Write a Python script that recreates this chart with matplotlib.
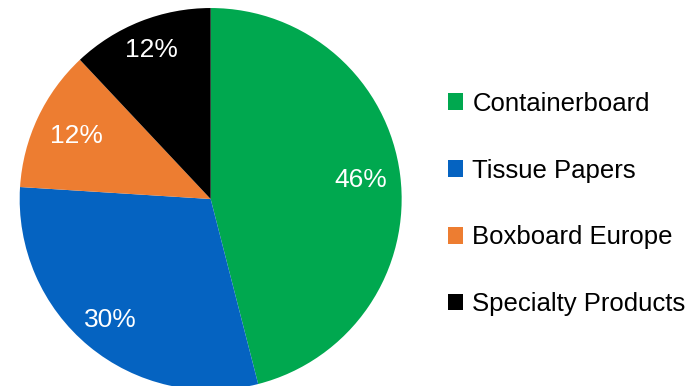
import matplotlib
matplotlib.use("Agg")
import matplotlib.pyplot as plt
import numpy as np

plt.rcParams['font.family'] = ['Liberation Sans', 'DejaVu Sans']

segments = ["Containerboard", "Tissue Papers", "Boxboard Europe", "Specialty Products"]
shares = [46, 30, 12, 12]
colors = ["#00A84F", "#0563C1", "#ED7D31", "#000000"]
label_radius = [0.79, 0.82, 0.775, 0.84]

fig = plt.figure(figsize=(7.0, 3.86), dpi=100)
ax = fig.add_axes([0.0281, -0.0104, 0.5457, 0.9896])

wedges, texts, autotexts = ax.pie(
    shares, colors=colors, startangle=90, counterclock=False,
    autopct=lambda p: f"{p:.0f}%", pctdistance=0.8, radius=1.0,
    wedgeprops=dict(linewidth=0),
    textprops=dict(color="white", fontsize=19),
)
for w, t, r in zip(wedges, autotexts, label_radius):
    mid = np.deg2rad((w.theta1 + w.theta2) / 2)
    t.set_position((r * np.cos(mid), r * np.sin(mid)))

ax.set_xlim(-1, 1)
ax.set_ylim(-1, 1)
ax.set_aspect("equal")
ax.axis("off")

fig.legend(
    wedges, segments, loc="center left", bbox_to_anchor=(0.607, 0.4715),
    frameon=False, fontsize=18.5, handlelength=0.6, handleheight=0.6,
    handletextpad=0.35, labelspacing=1.67,
)

fig.savefig("out.png", dpi=100)
